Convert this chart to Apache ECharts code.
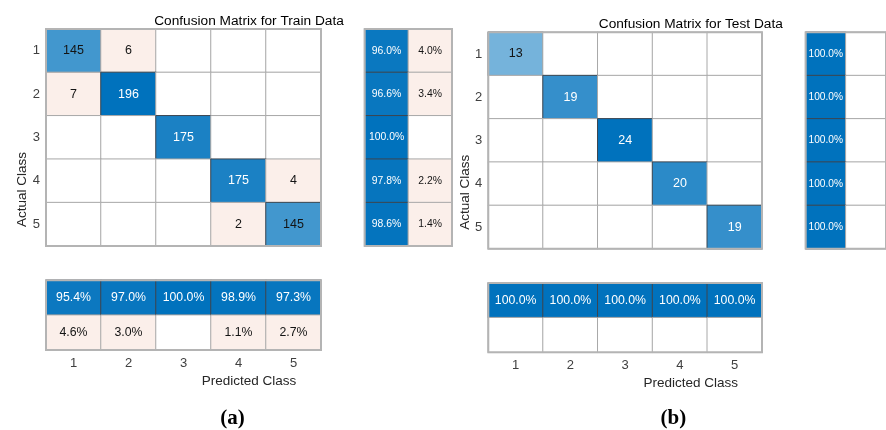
<!DOCTYPE html>
<html>
<head>
<meta charset="utf-8">
<script src="https://cdn.jsdelivr.net/npm/echarts@6/dist/echarts.min.js"></script>
<style>
  html, body { margin: 0; padding: 0; background: #ffffff; }
  #chart { width: 886px; height: 430px; }
</style>
</head>
<body>
<div id="chart"></div>
<script>
// Class labels
const classes = ['1', '2', '3', '4', '5'];

// Train data: confusion counts (rows = actual, cols = predicted)
const trainCounts = [
  [145, 6, 0, 0, 0],
  [7, 196, 0, 0, 0],
  [0, 0, 175, 0, 0],
  [0, 0, 0, 175, 4],
  [0, 0, 0, 2, 145]
];
// Train row summary (%), correct / incorrect per actual class
const trainRowCorrect = [96.0, 96.6, 100.0, 97.8, 98.6];
const trainRowWrong = [4.0, 3.4, 0, 2.2, 1.4];
// Train column summary (%), correct / incorrect per predicted class
const trainColCorrect = [95.4, 97.0, 100.0, 98.9, 97.3];
const trainColWrong = [4.6, 3.0, 0, 1.1, 2.7];

// Test data
const testCounts = [
  [13, 0, 0, 0, 0],
  [0, 19, 0, 0, 0],
  [0, 0, 24, 0, 0],
  [0, 0, 0, 20, 0],
  [0, 0, 0, 0, 19]
];
const testRowCorrect = [100.0, 100.0, 100.0, 100.0, 100.0];
const testRowWrong = [0, 0, 0, 0, 0];
const testColCorrect = [100.0, 100.0, 100.0, 100.0, 100.0];
const testColWrong = [0, 0, 0, 0, 0];

const BLUE = [0, 114, 189];
const PINK = '#fbefea';
const EDGE_DARK = '#3c4650';
const EDGE_GRID = '#a8a8a8';

function blueShade(t) {
  const c = BLUE.map(v => Math.round(255 + (v - 255) * t));
  return 'rgb(' + c.join(',') + ')';
}

// One heatmap cell; good = diagonal / correct share, t = colour intensity 0..1
function item(x, y, value, good, t, text) {
  let color = '#ffffff', border = EDGE_GRID, tone = 'k';
  if (value > 0) {
    if (good) {
      color = blueShade(t);
      border = EDGE_DARK;
      tone = t > 0.76 ? 'w' : 'k';
    } else {
      color = PINK;
    }
  }
  return {
    value: [x, y, value],
    text: value > 0 ? '{' + tone + '|' + text + '}' : '',
    itemStyle: { color: color, borderColor: border, borderWidth: 1 }
  };
}

function matrixItems(counts) {
  let maxDiag = 0;
  counts.forEach((r, i) => { maxDiag = Math.max(maxDiag, r[i]); });
  const out = [];
  counts.forEach((row, i) => row.forEach((v, j) => {
    out.push(item(j, i, v, i === j, v / maxDiag, String(v)));
  }));
  return out;
}

function rowSummaryItems(correct, wrong) {
  const out = [];
  correct.forEach((v, i) => {
    out.push(item(0, i, v, true, v / 100, v.toFixed(1) + '%'));
    out.push(item(1, i, wrong[i], false, wrong[i] / 100, wrong[i].toFixed(1) + '%'));
  });
  return out;
}

function colSummaryItems(correct, wrong) {
  const out = [];
  correct.forEach((v, j) => {
    out.push(item(j, 0, v, true, v / 100, v.toFixed(1) + '%'));
    out.push(item(j, 1, wrong[j], false, wrong[j] / 100, wrong[j].toFixed(1) + '%'));
  });
  return out;
}

const FONT = 'Liberation Sans, Arial, Helvetica, sans-serif';
const gridFrame = { show: true, borderColor: '#b4b4b4', borderWidth: 2, backgroundColor: 'transparent', z: 10 };

// Panel layouts: main matrix, row summary, column summary
const panels = [
  {
    counts: trainCounts, rowC: trainRowCorrect, rowW: trainRowWrong, colC: trainColCorrect, colW: trainColWrong,
    main: { left: 46, top: 29, width: 275, height: 217 },
    row: { left: 364.7, top: 29, width: 87.3, height: 217 },
    col: { left: 46, top: 280.3, width: 275, height: 69.7 },
    rowFont: 10.4
  },
  {
    counts: testCounts, rowC: testRowCorrect, rowW: testRowWrong, colC: testColCorrect, colW: testColWrong,
    main: { left: 488.3, top: 32.3, width: 273.7, height: 216.4 },
    row: { left: 805.7, top: 32.3, width: 87.6, height: 216.4 },
    col: { left: 488.3, top: 283, width: 273.7, height: 69.3 },
    rowFont: 10.2
  }
];

const grid = [], xAxis = [], yAxis = [], series = [];
const hidden = { show: false };

function cellLabel(size) {
  return {
    show: true,
    formatter: q => q.data.text,
    rich: {
      k: { color: '#141414', fontSize: size, fontFamily: FONT },
      w: { color: '#ffffff', fontSize: size, fontFamily: FONT }
    }
  };
}

panels.forEach(p => {
  const gMain = grid.length;
  grid.push(Object.assign({}, gridFrame, p.main));
  grid.push(Object.assign({}, gridFrame, p.row));
  grid.push(Object.assign({}, gridFrame, p.col));

  // main matrix axes
  xAxis.push({ type: 'category', gridIndex: gMain, data: classes, axisLine: hidden, axisTick: hidden, axisLabel: hidden, splitLine: hidden });
  yAxis.push({ type: 'category', gridIndex: gMain, data: classes, inverse: true, axisLine: hidden, axisTick: hidden, splitLine: hidden,
    axisLabel: { margin: 6, fontSize: 13, color: '#404040', fontFamily: FONT } });
  // row summary axes
  xAxis.push({ type: 'category', gridIndex: gMain + 1, data: ['correct', 'incorrect'], axisLine: hidden, axisTick: hidden, axisLabel: hidden, splitLine: hidden });
  yAxis.push({ type: 'category', gridIndex: gMain + 1, data: classes, inverse: true, axisLine: hidden, axisTick: hidden, axisLabel: hidden, splitLine: hidden });
  // column summary axes
  xAxis.push({ type: 'category', gridIndex: gMain + 2, data: classes, axisLine: hidden, axisTick: hidden, splitLine: hidden,
    axisLabel: { margin: 7, fontSize: 13, color: '#404040', fontFamily: FONT } });
  yAxis.push({ type: 'category', gridIndex: gMain + 2, data: ['correct', 'incorrect'], inverse: true, axisLine: hidden, axisTick: hidden, axisLabel: hidden, splitLine: hidden });

  const base = { type: 'heatmap', emphasis: { disabled: true } };
  series.push(Object.assign({}, base, { xAxisIndex: gMain, yAxisIndex: gMain, data: matrixItems(p.counts), label: cellLabel(12.5) }));
  series.push(Object.assign({}, base, { xAxisIndex: gMain + 1, yAxisIndex: gMain + 1, data: rowSummaryItems(p.rowC, p.rowW), label: cellLabel(p.rowFont) }));
  series.push(Object.assign({}, base, { xAxisIndex: gMain + 2, yAxisIndex: gMain + 2, data: colSummaryItems(p.colC, p.colW), label: cellLabel(12.3) }));
});

function txt(text, x, y, font, color, rotation) {
  return {
    type: 'text', x: x, y: y, rotation: rotation || 0, silent: true,
    style: { text: text, x: 0, y: 0, align: 'center', verticalAlign: 'middle', textAlign: 'center', textVerticalAlign: 'middle', font: font, fill: color }
  };
}

const graphic = [
  txt('Confusion Matrix for Train Data', 249, 21.5, '13.7px ' + FONT, '#000000'),
  txt('Confusion Matrix for Test Data', 690.8, 24.5, '13.7px ' + FONT, '#000000'),
  txt('Predicted Class', 249, 381, '13.5px ' + FONT, '#262626'),
  txt('Predicted Class', 690.8, 383.3, '13.5px ' + FONT, '#262626'),
  txt('Actual Class', 22, 189.5, '13.5px ' + FONT, '#262626', Math.PI / 2),
  txt('Actual Class', 465, 192.3, '13.5px ' + FONT, '#262626', Math.PI / 2),
  txt('(a)', 232.5, 419, 'bold 21px "Liberation Serif", "DejaVu Serif", serif', '#000000'),
  txt('(b)', 673.3, 419, 'bold 21px "Liberation Serif", "DejaVu Serif", serif', '#000000')
];

const chart = echarts.init(document.getElementById('chart'), null, { renderer: 'canvas' });
chart.setOption({
  animation: false,
  backgroundColor: '#ffffff',
  textStyle: { fontFamily: FONT },
  grid: grid,
  xAxis: xAxis,
  yAxis: yAxis,
  series: series,
  graphic: graphic
});
</script>
</body>
</html>
